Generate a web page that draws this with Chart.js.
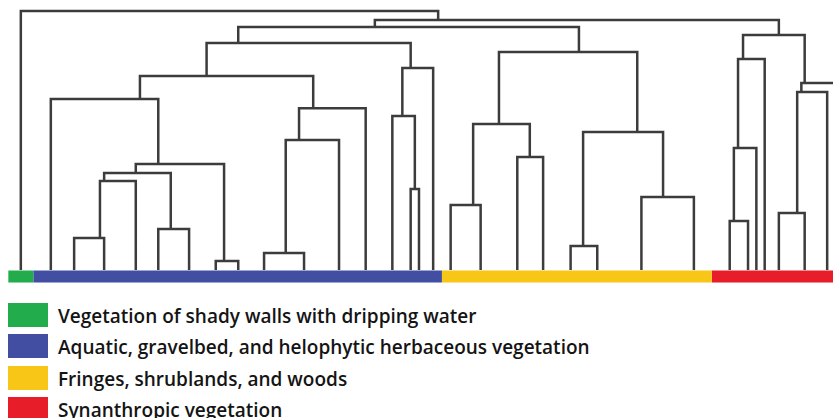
<!DOCTYPE html>
<html>
<head>
<meta charset="utf-8">
<script src="https://cdn.jsdelivr.net/npm/chart.js@4.4.1/dist/chart.umd.min.js"></script>
<style>
    body { margin: 0; background: #fff; }
    #wrap { position: relative; width: 833px; height: 418px; overflow: hidden; }
    #chartBox { position: absolute; left: 0; top: 0; width: 833px; height: 290px; }
    #legend { position: absolute; left: 0; top: 303px; }
    .item { position: absolute; left: 8px; height: 24px; white-space: nowrap; }
    .swatch { position: absolute; left: 0; top: 0; width: 40px; height: 24px; }
    .label { position: absolute; left: 50px; top: 0; line-height: 24px; font: 600 19px "Open Sans", sans-serif; color: #141414; }
</style>
</head>
<body>
<div id="wrap">
    <div id="chartBox"><canvas id="myChart"></canvas></div>
    <div id="legend"></div>
</div>
<script>
// leaves, left to right (position along the axis, 0-100)
const leafPos = [2.5, 6.1, 8.9, 12.5, 16.3, 19.0, 22.7, 25.9, 28.6, 31.7, 36.5,
    40.7, 43.9, 47.1, 49.3, 50.3, 52.0, 54.1, 57.7, 62.1, 65.2, 68.5, 71.7,
    77.0, 83.3, 87.6, 89.8, 90.8, 91.8, 93.5, 96.6, 99.3, 106];

// groups of the colour strip: how many consecutive leaves each one holds
const groupNames = [
    'Vegetation of shady walls with dripping water',
    'Aquatic, gravelbed, and helophytic herbaceous vegetation',
    'Fringes, shrublands, and woods',
    'Synanthropic vegetation'
];
const groupSize = [1, 16, 8, 8];
const groupColors = ['#23ac4c', '#414ea1', '#f8c617', '#e71d2a'];

// merges (ids < leafPos.length are leaves, the rest are earlier merges)
const mergeLeft   = [7, 9, 21, 2, 5, 25, 29, 17, 23, 14, 36, 43, 44, 19, 38, 34,
    35, 40, 13, 48, 1, 39, 54, 53, 51, 47, 50, 56, 58, 60, 62, 0];
const mergeRight  = [8, 10, 22, 3, 6, 26, 30, 18, 24, 15, 4, 37, 33, 20, 27, 11,
    41, 46, 42, 12, 45, 31, 32, 52, 16, 28, 49, 57, 55, 59, 61, 63];
const mergeHeight = [0.035, 0.066, 0.093, 0.124, 0.158, 0.189, 0.220, 0.251,
    0.282, 0.313, 0.344, 0.375, 0.409, 0.436, 0.471, 0.502, 0.533, 0.564, 0.595,
    0.625, 0.660, 0.687, 0.722, 0.749, 0.780, 0.815, 0.842, 0.876, 0.907, 0.938,
    0.965, 1.000];
// where each merged branch rises to its parent
const mergePos    = [26.9, 34.3, 70.0, 12.0, 20.5, 88.1, 95.7, 56.8, 79.6, 49.8,
    12.5, 16.3, 19.0, 63.6, 88.6, 35.9, 76.5, 59.9, 48.3, 37.6, 16.8, 96.2, 96.6,
    24.8, 49.3, 89.2, 69.5, 28.6, 93.5, 45.0, 52.6, 26.0];

const STRIP_LEVEL = -0.0251;
const nLeaves = leafPos.length;

function nodeX(id) { return id < nLeaves ? leafPos[id] : mergePos[id - nLeaves]; }
function nodeH(id) { return id < nLeaves ? 0 : mergeHeight[id - nLeaves]; }

// one U shape per merge, separated by gaps
let treePoints = [];
mergeHeight.forEach((h, i) => {
    const a = mergeLeft[i], b = mergeRight[i];
    treePoints.push(
        {x: nodeX(a), y: nodeH(a)},
        {x: nodeX(a), y: h},
        {x: nodeX(b), y: h},
        {x: nodeX(b), y: nodeH(b)},
        {x: nodeX(b), y: null}
    );
});

let datasets = [{
    label: 'tree',
    data: treePoints,
    borderColor: '#3c3c3c',
    borderWidth: 2.5,
    borderJoinStyle: 'miter',
    borderCapStyle: 'butt',
    spanGaps: false,
    pointRadius: 0,
    tension: 0,
    order: 2
}];

// strip edges: halfway between neighbouring groups, the single first leaf gets a narrow block
let start = 0;
let from = leafPos[0] - 1.5;
groupSize.forEach((n, g) => {
    const last = start + n - 1;
    const to = g === 0 || g === groupSize.length - 1
        ? leafPos[last] + 1.5
        : (leafPos[last] + leafPos[last + 1]) / 2;
    datasets.push({
        label: groupNames[g],
        data: [{x: from, y: STRIP_LEVEL}, {x: to, y: STRIP_LEVEL}],
        borderColor: groupColors[g],
        borderWidth: 12,
        borderCapStyle: 'butt',
        pointRadius: 0,
        order: 1
    });
    from = to;
    start += n;
});

const ctx = document.getElementById('myChart').getContext('2d');
const dendroChart = new Chart(ctx, {
    type: 'line',
    data: { datasets: datasets },
    options: {
        responsive: true,
        maintainAspectRatio: false,
        animation: false,
        layout: { padding: 0 },
        plugins: {
            legend: { display: false },
            tooltip: { enabled: false }
        },
        scales: {
            x: { type: 'linear', min: 0, max: 100, display: false },
            y: { type: 'linear', min: -0.0772, max: 1.0425, display: false }
        }
    }
});

// legend below the strip
const legendBox = document.getElementById('legend');
groupNames.forEach((name, g) => {
    const row = document.createElement('div');
    row.className = 'item';
    row.style.top = (g * 31.3) + 'px';
    row.innerHTML = `<span class="swatch" style="background:${groupColors[g]}"></span><span class="label">${name}</span>`;
    legendBox.appendChild(row);
});
</script>
</body>
</html>
